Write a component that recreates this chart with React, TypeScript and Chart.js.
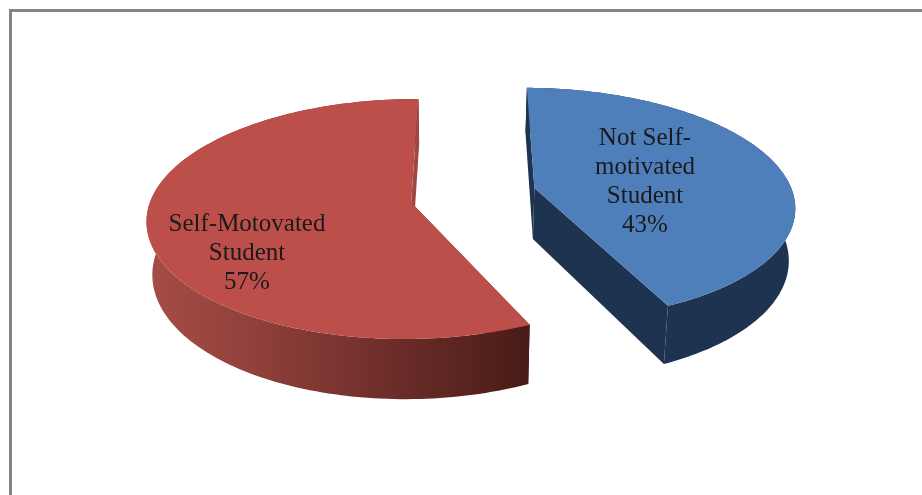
import React, { useEffect, useRef } from "react";
import { Chart, registerables } from "chart.js";

Chart.register(...registerables);

const categories = ["Not Self-motivated Student", "Self-Motovated Student"];
const values = [43, 57];
const labelLines = [
  ["Not Self-", "motivated", "Student"],
  ["Self-Motovated", "Student"],
];

const topColors = ["#4E7FBB", "#BD4F4B"];

// perspective view of the pie plane
const VANISH_X = 455;
const HORIZON_Y = -650;
const PLANE_H = 855;
const PERSPECTIVE = 0.1385;
const THICKNESS = 52;
const BASE_SHRINK = 0.981;
const RADIUS = [262, 262];
// explode offset of each slice in the plane: x offset, depth
const EXPLODE = [
  { x: 81, d: 1.0203 },
  { x: -44, d: 1.003 },
];
const LABEL_POS = [
  { x: 645, y: 138 },
  { x: 247, y: 224 },
];
const LINE_H = 29;

const pie3d = {
  id: "pie3d",
  beforeDraw(chart: any) {
    const { ctx, width, height } = chart;
    ctx.save();
    ctx.fillStyle = "#FFFFFF";
    ctx.fillRect(0, 0, width, height);
    ctx.strokeStyle = "#848484";
    ctx.lineWidth = 3;
    ctx.beginPath();
    ctx.moveTo(10.5, height);
    ctx.lineTo(10.5, 10.5);
    ctx.lineTo(width, 10.5);
    ctx.stroke();
    ctx.restore();
  },
  beforeDatasetDraw(chart: any, args: any) {
    const { ctx } = chart;
    const arcs = args.meta.data;
    const project = (i: number, theta: number, r: number, base: boolean) => {
      const e = EXPLODE[i];
      const D = e.d + (PERSPECTIVE * Math.cos(theta) * r) / RADIUS[i];
      const X = e.x + r * Math.sin(theta);
      const f = base ? BASE_SHRINK : 1;
      return {
        x: VANISH_X + (f * X) / D,
        y: HORIZON_Y + (PLANE_H + (base ? THICKNESS : 0)) / D,
      };
    };
    const trace = (pts: { x: number; y: number }[]) => {
      ctx.beginPath();
      pts.forEach((p, k) => (k ? ctx.lineTo(p.x, p.y) : ctx.moveTo(p.x, p.y)));
      ctx.closePath();
    };
    const radialWall = (i: number, t: number, fill: string) => {
      const R = RADIUS[i];
      trace([
        project(i, t, 0, false),
        project(i, t, R, false),
        project(i, t, R, true),
        project(i, t, 0, true),
      ]);
      ctx.fillStyle = fill;
      ctx.fill();
    };
    arcs.forEach((arc: any, i: number) => {
      const t0 = arc.startAngle + Math.PI / 2;
      const t1 = arc.endAngle + Math.PI / 2;
      const R = RADIUS[i];
      const steps = 160;
      const rim: number[] = [];
      for (let s = 0; s <= steps; s++) rim.push(t0 + ((t1 - t0) * s) / steps);

      const wallFill = (() => {
        if (i === 0) return "#1E3350";
        const g = ctx.createLinearGradient(146, 0, 530, 0);
        g.addColorStop(0, "#A64D47");
        g.addColorStop(0.3, "#8F3F3A");
        g.addColorStop(0.7, "#672A26");
        g.addColorStop(1, "#481B16");
        return g;
      })();

      radialWall(i, t0, i === 0 ? "#1E3350" : "#481B16");
      // outer wall
      trace([
        ...rim.map((t) => project(i, t, R, false)),
        ...rim.slice().reverse().map((t) => project(i, t, R, true)),
      ]);
      ctx.fillStyle = wallFill;
      ctx.fill();
      radialWall(i, t1, i === 0 ? "#1E3350" : "#9E4743");
      // top face
      trace([project(i, t0, 0, false), ...rim.map((t) => project(i, t, R, false))]);
      ctx.fillStyle = arc.options.backgroundColor;
      ctx.fill();
    });
    // labels
    ctx.save();
    ctx.font = '25px "Liberation Serif"';
    ctx.fillStyle = "#1A1A1A";
    ctx.textAlign = "center";
    ctx.textBaseline = "middle";
    arcs.forEach((_: any, i: number) => {
      const lines = [...labelLines[i], `${values[i]}%`];
      lines.forEach((line, k) => {
        ctx.fillText(line, LABEL_POS[i].x, LABEL_POS[i].y + k * LINE_H);
      });
    });
    ctx.restore();
    return false;
  },
};

export default function App() {
  const ref = useRef<HTMLCanvasElement>(null);
  useEffect(() => {
    const chart = new Chart(ref.current!, {
      type: "pie",
      data: {
        labels: categories,
        datasets: [{ data: values, backgroundColor: topColors, borderWidth: 0 }],
      },
      options: {
        responsive: false,
        animation: false,
        rotation: 0.5,
        plugins: { legend: { display: false }, tooltip: { enabled: false } },
      },
      plugins: [pie3d],
    });
    return () => chart.destroy();
  }, []);
  return (
    <div style={{ position: "fixed", left: 0, top: 0, width: 922, height: 495, overflow: "hidden" }}>
      <canvas ref={ref} width={922} height={495} style={{ display: "block", filter: "blur(0.5px)" }} />
    </div>
  );
}
